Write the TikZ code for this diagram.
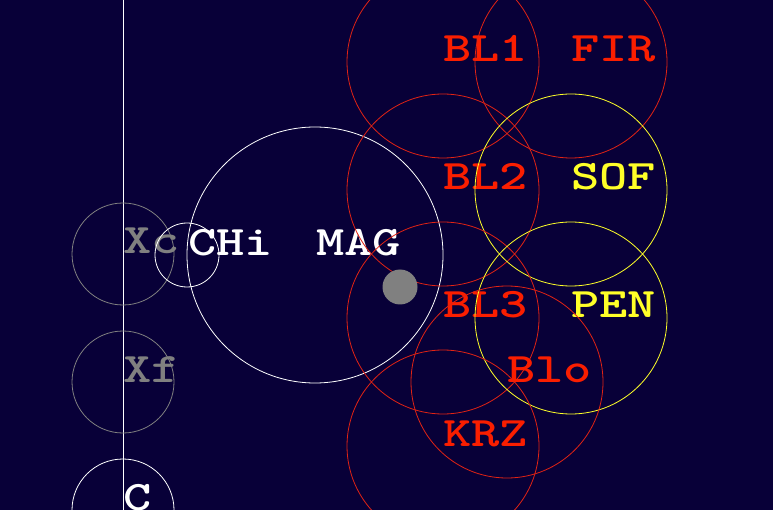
\documentclass[tikz,border=0pt]{standalone}
\usepackage{fontspec}
\newfontfamily\monof{lmmonolt10-bold.otf}[FakeStretch=1.28]
\definecolor{bgnavy}{RGB}{8,0,56}
\definecolor{tred}{RGB}{250,30,0}
\definecolor{cred}{RGB}{225,35,20}
\definecolor{tyel}{RGB}{255,255,40}
\definecolor{tgray}{RGB}{128,128,128}
\tikzset{
  ring/.style={circle, draw=#1, line width=0.8pt, inner sep=0pt, outer sep=0pt},
  lbl/.style={anchor=base west, inner sep=0pt, outer sep=0pt, text=#1,
    font=\monof\fontsize{42}{50}\selectfont},
}
\begin{document}
\begin{tikzpicture}[x=1pt,y=-1pt]
\fill[bgnavy] (0,0) rectangle (773,510);
\useasboundingbox (0,0) rectangle (773,510);
\coordinate (ltop) at (123,0);
\coordinate (lbot) at (123,510);
\draw[white, line width=1pt] (ltop) -- (lbot);
% left column
\node[ring=tgray, minimum size=102pt] (xc) at (123,254) {};
\node[lbl=tgray] (xct) at (xc.center) {Xc};
\node[ring=tgray, minimum size=102pt] (xf) at (123,382) {};
\node[lbl=tgray] (xft) at (xf.center) {Xf};
\node[ring=white, minimum size=102pt] (c) at (123,510) {};
\node[lbl=white] (ct) at (c.center) {C};
% CHi and MAG
\node[ring=white, minimum size=64pt] (chi) at (187,255) {};
\node[lbl=white] (chit) at ([xshift=1pt,yshift=-1pt]chi.center) {CHi};
\node[ring=white, minimum size=256pt] (mag) at (315,255) {};
\node[lbl=white] (magt) at ([xshift=1pt,yshift=-1pt]mag.center) {MAG};
% right group
\node[ring=cred, minimum size=192pt] (bl1) at (443,62) {};
\node[lbl=tred] (bl1t) at (bl1.center) {BL1};
\node[ring=cred, minimum size=192pt] (fir) at (571,62) {};
\node[lbl=tred] (firt) at (fir.center) {FIR};
\node[ring=cred, minimum size=192pt] (bl2) at (443,190) {};
\node[lbl=tred] (bl2t) at (bl2.center) {BL2};
\node[ring=tyel, minimum size=192pt] (sof) at (571,190) {};
\node[lbl=tyel] (soft) at (sof.center) {SOF};
\node[ring=cred, minimum size=192pt] (bl3) at (443,318) {};
\node[lbl=tred] (bl3t) at (bl3.center) {BL3};
\node[ring=tyel, minimum size=192pt] (pen) at (571,318) {};
\node[lbl=tyel] (pent) at (pen.center) {PEN};
\node[ring=cred, minimum size=192pt] (blo) at (507,382) {};
\node[lbl=tred] (blot) at (blo.center) {Blo};
\node[ring=cred, minimum size=192pt] (krz) at (443,446) {};
\node[lbl=tred] (krzt) at (krz.center) {KRZ};
% gray dot
\node[circle, fill=tgray, minimum size=35pt, inner sep=0pt] (dot) at (400,287) {};
\end{tikzpicture}
\end{document}
